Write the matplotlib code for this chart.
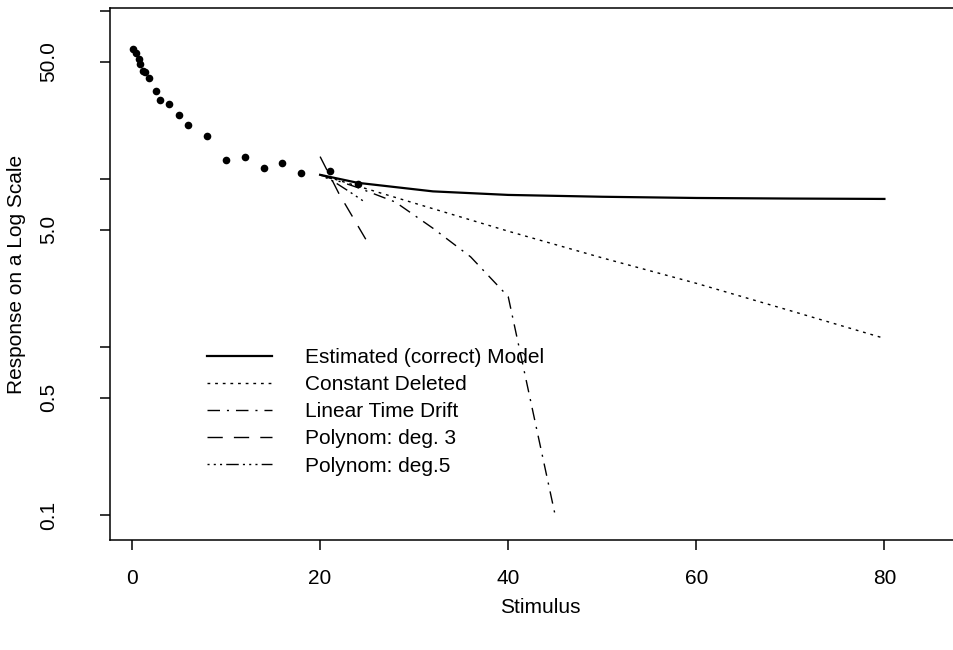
import matplotlib.pyplot as plt

plt.rcParams['font.family'] = ['Liberation Sans', 'DejaVu Sans']

# observed responses
obs_x = [0.1, 0.4, 0.7, 0.9, 1.2, 1.4, 1.8, 2.5, 3.0, 3.9, 5.0, 6.0, 8.0,
         10.0, 12.0, 14.0, 16.0, 18.0, 21.0, 24.0]
obs_y = [59.5, 55.8, 51.4, 48.0, 43.8, 43.1, 40.0, 33.3, 29.7, 27.8, 23.9,
         21.1, 18.1, 13.0, 13.5, 11.7, 12.4, 10.8, 11.1, 9.35]

# model predictions
est_x = [20, 24, 32, 40, 50, 60, 70, 80]
est_y = [10.6, 9.5, 8.45, 8.05, 7.85, 7.72, 7.66, 7.62]

const_x = [20, 30, 40, 50, 60, 70, 80]
const_y = [10.6, 7.2, 4.9, 3.4, 2.4, 1.65, 1.13]

drift_x = [20, 24, 28, 32, 36, 40, 45]
drift_y = [10.6, 8.9, 7.3, 5.1, 3.45, 2.0, 0.1]

poly3_x = [20, 22, 25]
poly3_y = [13.6, 8.2, 4.25]

poly5_x = [20, 21.4, 23, 24.6]
poly5_y = [10.6, 9.7, 8.5, 7.4]

labels = ['Estimated (correct) Model', 'Constant Deleted', 'Linear Time Drift',
          'Polynom: deg. 3', 'Polynom: deg.5']

fig = plt.figure(figsize=(9.54, 6.5), dpi=100)
ax = fig.add_axes([110 / 954, 110 / 650, 860 / 954, 532 / 650])

ax.plot(est_x, est_y, color='black', lw=1.6, label=labels[0])
ax.plot(const_x, const_y, color='black', lw=1.0, ls=(0, (2, 3.5)), label=labels[1])
ax.plot(drift_x, drift_y, color='black', lw=1.0, ls=(0, (9, 5, 1.5, 5)), label=labels[2])
ax.plot(poly3_x, poly3_y, color='black', lw=1.0, ls=(0, (11, 8)), label=labels[3])
ax.plot(poly5_x, poly5_y, color='black', lw=1.0, ls=(0, (1.5, 3, 1.5, 3, 1.5, 3, 9, 3)),
        label=labels[4])
ax.plot(obs_x, obs_y, 'o', color='black', ms=5.5, mew=0)

ax.set_yscale('log')
ax.set_xlim(-2.34, 89.1)
ax.set_ylim(0.0715, 104)
ax.set_xticks([0, 20, 40, 60, 80])
ax.set_yticks([0.1, 0.5, 1, 5, 10, 50, 100])
ax.set_yticklabels(['0.1', '0.5', '', '5.0', '', '50.0', ''])
ax.minorticks_off()

for s in ax.spines.values():
    s.set_linewidth(1.1)
ax.spines['right'].set_visible(False)
ax.tick_params(length=7, width=1.1, labelsize=15)
ax.tick_params(axis='x', pad=14)
ax.tick_params(axis='y', pad=30, labelrotation=90)
for lab in ax.get_yticklabels():
    lab.set_va('center')

ax.set_xlabel('Stimulus', fontsize=15, labelpad=7)
ax.set_ylabel('Response on a Log Scale', fontsize=15, labelpad=10)

ax.legend(loc='upper left', bbox_to_anchor=(207 / 954, 1 - 348 / 650),
          bbox_transform=fig.transFigure,
          frameon=False, fontsize=15, handlelength=3.1, handletextpad=1.6,
          borderpad=0, borderaxespad=0, labelspacing=0.39)

fig.savefig('out.png', dpi=100)
